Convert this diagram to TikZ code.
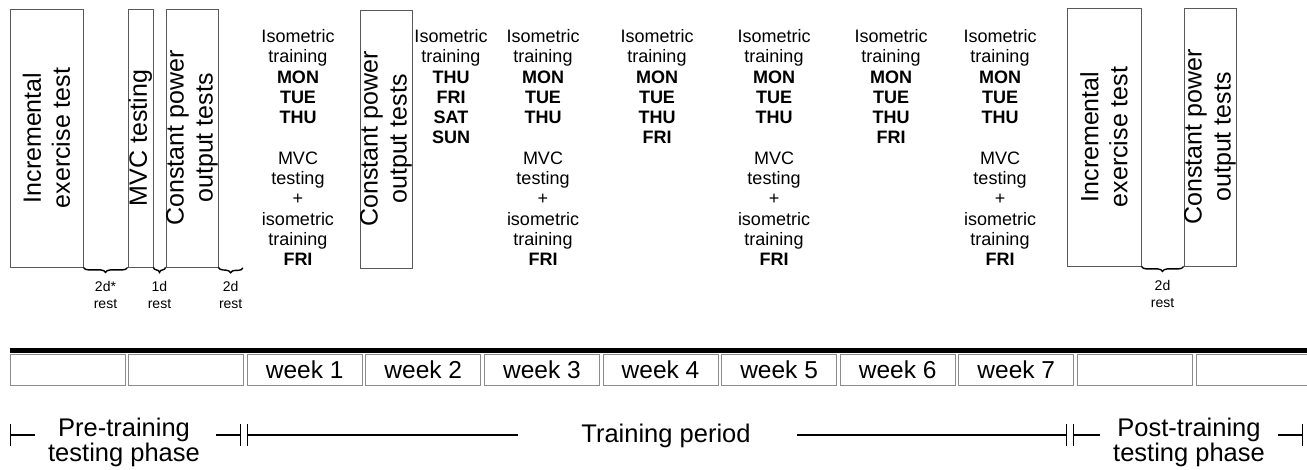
\documentclass[tikz,border=0pt]{standalone}
\usepackage{fontspec}
\setmainfont{Liberation Sans}
\usetikzlibrary{arrows.meta,positioning,decorations.pathreplacing}

\begin{document}
\begin{tikzpicture}[x=1pt,y=-1pt,line width=0.8pt,node distance=2.8pt,
    testbox/.style={draw=black!65,minimum width=#1,minimum height=258pt,inner sep=0pt},
    vtext/.style={rotate=90,align=center,inner sep=0pt,font=\fontsize{25}{29}\selectfont},
    plan/.style={anchor=north,align=center,inner sep=0pt,font=\fontsize{18}{20.3}\selectfont},
    restbrace/.style={decorate,decoration={brace,mirror,amplitude=5pt},line width=1.4pt},
    restlab/.style={align=center,inner sep=0pt,font=\fontsize{14}{17}\selectfont},
    week/.style={draw=black!45,minimum width=115pt,minimum height=31pt,inner sep=0pt,font=\fontsize{24.5}{24}\selectfont},
    phase/.style={align=center,inner sep=0pt,font=\fontsize{25.5}{25}\selectfont},
    phaseline/.style={line width=1.2pt}]
    \useasboundingbox (0,0) rectangle (1307,469);

    %pre-training tests
    \node[testbox=73pt] (inc_1) at (46.5,138) {};
    \node[vtext] (inc_1t) at (inc_1) {Incremental\\exercise test};
    \node[testbox=25pt] (mvc_1) at (140.5,138) {};
    \node[vtext] (mvc_1t) at (mvc_1) {MVC testing};
    \node[testbox=52pt] (cpo_1) at (192,138) {};
    \node[vtext] (cpo_1t) at (cpo_1) {Constant power\\output tests};

    %rest days pre
    \coordinate (r_1) at (243,268);
    \draw[restbrace] (inc_1.south east) -- node[restlab,below=13pt] (rest_1) {2d*\\rest} (mvc_1.south west);
    \draw[restbrace] (mvc_1.south east) -- node[restlab,below=13pt] (rest_2) {1d\\rest} (cpo_1.south west);
    \draw[restbrace] (cpo_1.south east) -- node[restlab,below=13pt] (rest_3) {2d\\rest} (r_1);

    %training weeks
    \node[plan] (iso_1) at (298,29) {Isometric\\training\\\textbf{MON}\\\textbf{TUE}\\\textbf{THU}\\[20.3pt]MVC\\testing\\+\\isometric\\training\\\textbf{FRI}};
    \node[testbox=52pt] (cpo_2) at (386,139) {};
    \node[vtext] (cpo_2t) at (cpo_2) {Constant power\\output tests};
    \node[plan] (iso_2) at (451,29) {Isometric\\training\\\textbf{THU}\\\textbf{FRI}\\\textbf{SAT}\\\textbf{SUN}};
    \node[plan] (iso_3) at (543,29) {Isometric\\training\\\textbf{MON}\\\textbf{TUE}\\\textbf{THU}\\[20.3pt]MVC\\testing\\+\\isometric\\training\\\textbf{FRI}};
    \node[plan] (iso_4) at (657,29) {Isometric\\training\\\textbf{MON}\\\textbf{TUE}\\\textbf{THU}\\\textbf{FRI}};
    \node[plan] (iso_5) at (774,29) {Isometric\\training\\\textbf{MON}\\\textbf{TUE}\\\textbf{THU}\\[20.3pt]MVC\\testing\\+\\isometric\\training\\\textbf{FRI}};
    \node[plan] (iso_6) at (891,29) {Isometric\\training\\\textbf{MON}\\\textbf{TUE}\\\textbf{THU}\\\textbf{FRI}};
    \node[plan] (iso_7) at (1000,29) {Isometric\\training\\\textbf{MON}\\\textbf{TUE}\\\textbf{THU}\\[20.3pt]MVC\\testing\\+\\isometric\\training\\\textbf{FRI}};

    %post-training tests
    \node[testbox=74pt] (inc_2) at (1104,137) {};
    \node[vtext] (inc_2t) at (inc_2) {Incremental\\exercise test};
    \node[testbox=52pt] (cpo_3) at (1210,137) {};
    \node[vtext] (cpo_3t) at (cpo_3) {Constant power\\output tests};
    \draw[restbrace] (inc_2.south east) -- node[restlab,below=13pt] (rest_4) {2d\\rest} (cpo_3.south west);

    %time line
    \node[week] (c_1) at (67.5,369.5) {};
    \node[week] (c_2) [right =of c_1] {};
    \node[week] (c_3) [right =of c_2] {week 1};
    \node[week] (c_4) [right =of c_3] {week 2};
    \node[week] (c_5) [right =of c_4] {week 3};
    \node[week] (c_6) [right =of c_5] {week 4};
    \node[week] (c_7) [right =of c_6] {week 5};
    \node[week] (c_8) [right =of c_7] {week 6};
    \node[week] (c_9) [right =of c_8] {week 7};
    \node[week] (c_10) [right =of c_9] {};
    \node[week] (c_11) [right =of c_10] {};
    \draw[line width=5pt] ([yshift=3pt]c_1.north west) -- ([yshift=3pt]c_11.north east);

    %phases
    \node[phase] (pre) at (124,442) {Pre-training\\testing phase};
    \node[phase] (train) at (666,436) {Training period};
    \node[phase] (post) at (1189,442) {Post-training\\testing phase};
    \coordinate (p_0) at (10,435);
    \coordinate (p_1) at (35,435);
    \coordinate (p_2) at (216,435);
    \coordinate (p_3) at (241,435);
    \coordinate (p_4) at (247,435);
    \coordinate (p_5) at (518,435);
    \coordinate (p_6) at (797,435);
    \coordinate (p_7) at (1067,435);
    \coordinate (p_8) at (1073,435);
    \coordinate (p_9) at (1100,435);
    \coordinate (p_10) at (1278,435);
    \coordinate (p_11) at (1303,435);
    \draw[phaseline,{Bar[width=22pt]}-] (p_0) -- (p_1);
    \draw[phaseline,-{Bar[width=22pt]}] (p_2) -- (p_3);
    \draw[phaseline,{Bar[width=22pt]}-] (p_4) -- (p_5);
    \draw[phaseline,-{Bar[width=22pt]}] (p_6) -- (p_7);
    \draw[phaseline,{Bar[width=22pt]}-] (p_8) -- (p_9);
    \draw[phaseline,-{Bar[width=22pt]}] (p_10) -- (p_11);

\end{tikzpicture}
\end{document}
